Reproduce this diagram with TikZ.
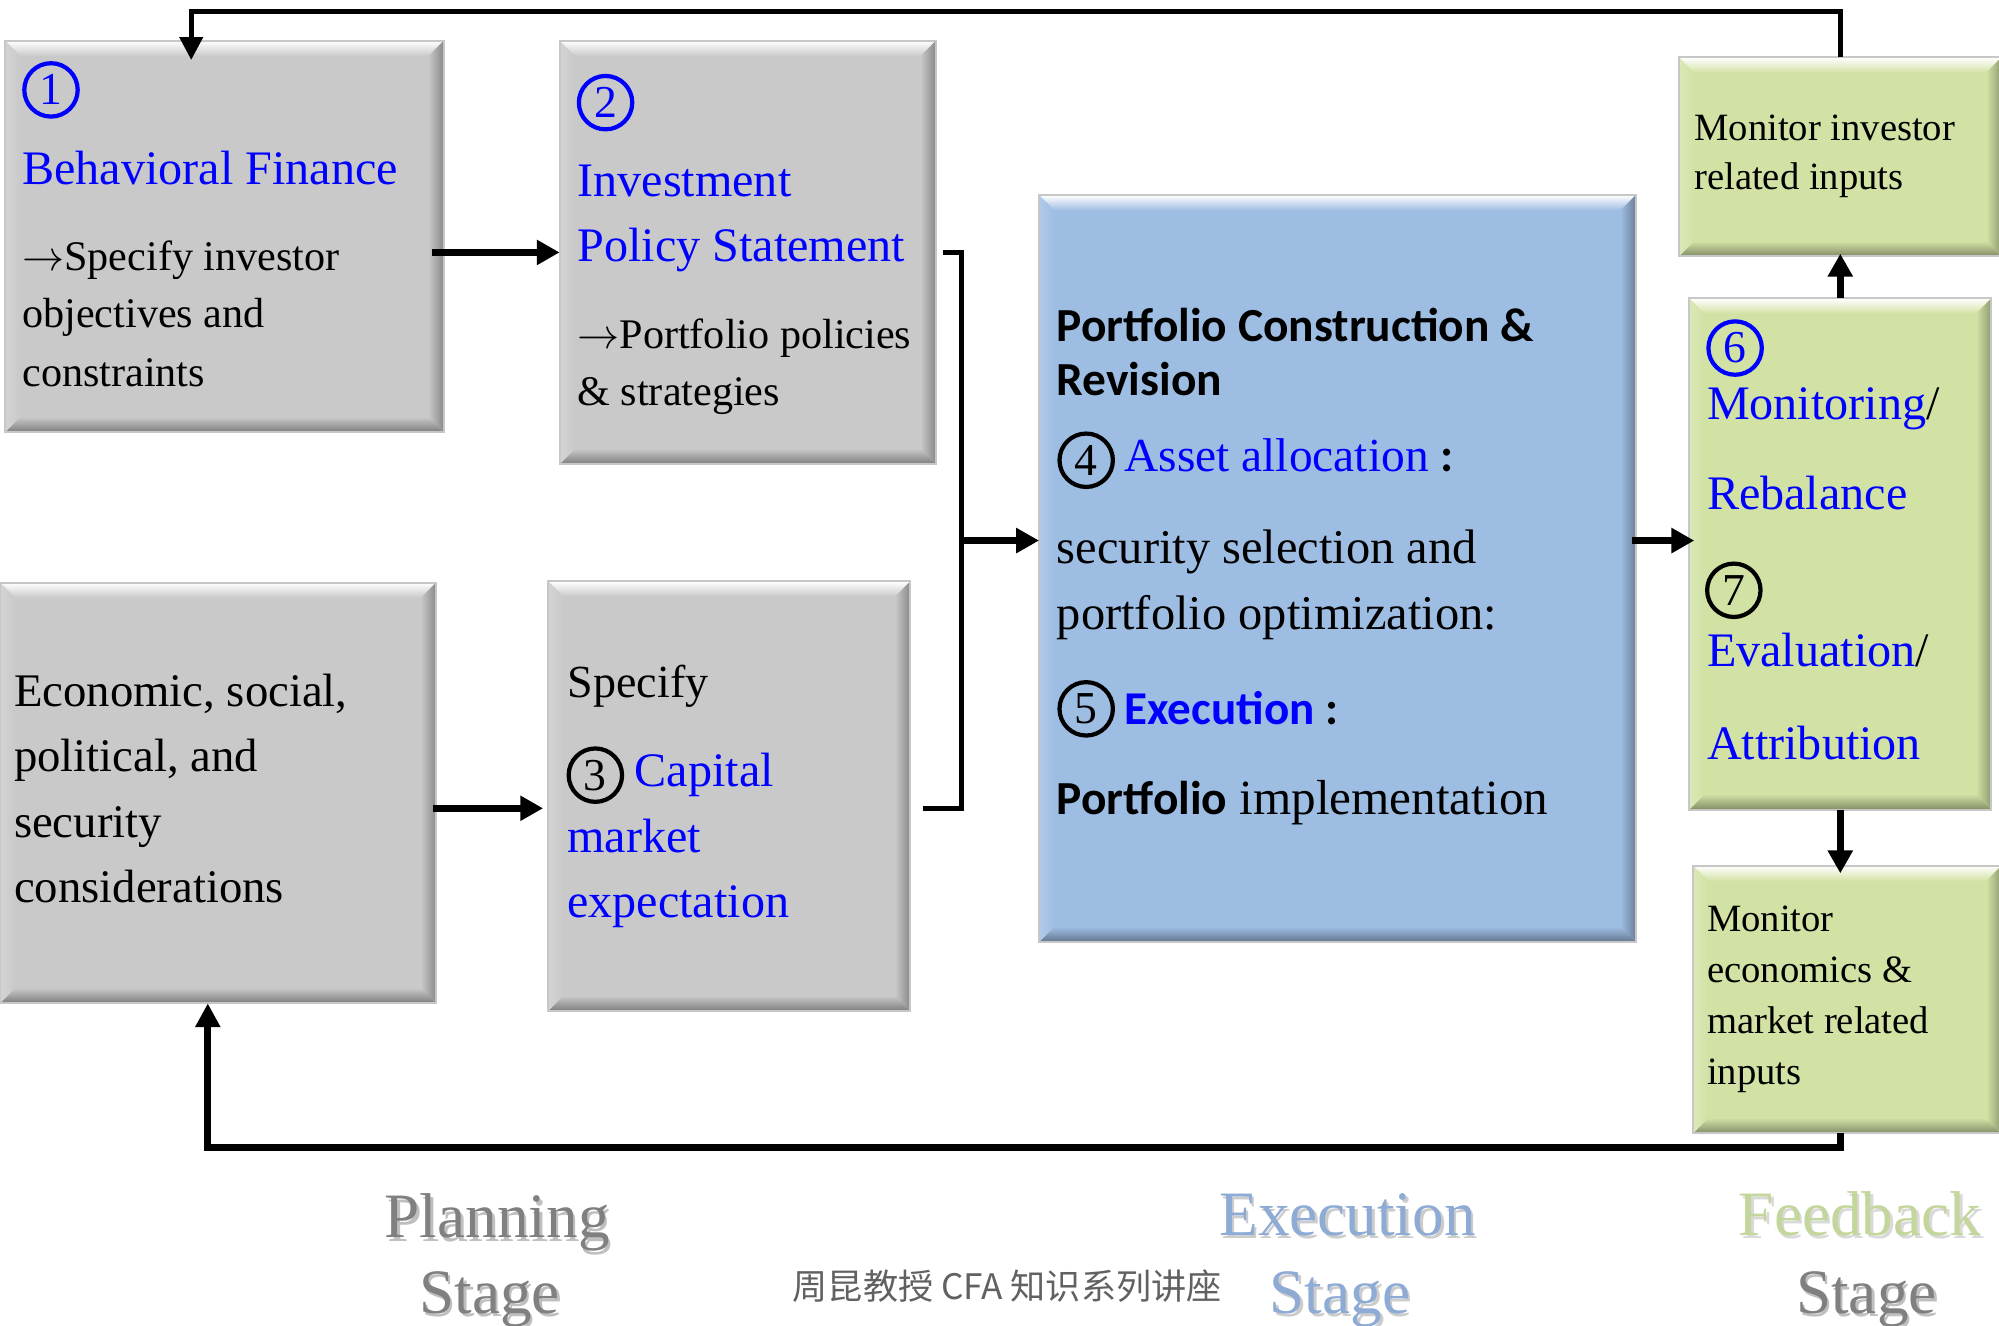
\documentclass[tikz,border=0pt]{standalone}
\usepackage{fontspec}
\setmainfont{Liberation Serif}
\newfontfamily\calib{Carlito}
\newfontfamily\cjkf{Noto Sans CJK SC}
\usetikzlibrary{arrows.meta,calc}
\newcommand\fsz[1]{\fontsize{#1}{#1}\selectfont}
\definecolor{gbase}{RGB}{201,201,201}
\definecolor{bbase}{RGB}{158,189,227}
\definecolor{lbase}{RGB}{210,226,165}
\definecolor{tblue}{RGB}{0,0,255}
\definecolor{execc}{RGB}{141,171,212}
\definecolor{feedc}{RGB}{195,214,155}
\definecolor{stagec}{RGB}{128,128,128}
\tikzset{
 bev/.style={inner sep=0pt, outer sep=0pt, fill=#1, draw=black!22, line width=0.6pt,
  path picture={
   \coordinate (pnw) at (path picture bounding box.north west);
   \coordinate (pse) at (path picture bounding box.south east);
   \coordinate (pne) at (path picture bounding box.north east);
   \coordinate (psw) at (path picture bounding box.south west);
   \shade[top color=white, bottom color=#1] (pnw) -- (pne) -- ($(pne)+(-12,12)$) -- ($(pnw)+(12,12)$) -- cycle;
   \shade[top color=#1, bottom color=#1!62!black] ($(psw)+(12,-12)$) -- ($(pse)+(-12,-12)$) -- (pse) -- (psw) -- cycle;
   \shade[left color=#1, right color=#1!68!black] ($(pne)+(-12,12)$) -- (pne) -- (pse) -- ($(pse)+(-12,-12)$) -- cycle;
   \shade[left color=#1!80!white, right color=#1] (pnw) -- ($(pnw)+(12,12)$) -- ($(psw)+(12,-12)$) -- (psw) -- cycle;
  }},
}
\newcommand\bevbox[6]{\node[bev=#6, minimum width={(#4-#2)*0.12755mm}, minimum height={(#5-#3)*0.12755mm}] (#1) at ({(#2+#4)/2},{(#3+#5)/2}) {};}
\newcommand\rarr{$\rightarrow$}
\begin{document}
\begin{tikzpicture}[x=0.12755mm, y=-0.12755mm,
 tx/.style={anchor=base west, inner sep=0pt, outer sep=0pt},
 hb/.style={tx, text=tblue, font=\fsz{13.7}},
 bd/.style={tx, font=\fsz{12}},
 circ/.style={circle, draw=#1, text=#1, line width=1.2pt, minimum size=15.2pt, inner sep=0pt, font=\fsz{13}},
 thk/.style={line width=2pt, -{Triangle[length=6.5pt,width=6.8pt]}},
 brk/.style={line width=1.4pt},
 fbt/.style={line width=1.3pt, -{Triangle[length=6.5pt,width=6.5pt]}},
 fbb/.style={line width=2pt, -{Triangle[length=6.8pt,width=6.8pt]}},
 lab/.style={anchor=base, inner sep=0pt, font=\fsz{18}},
]
\useasboundingbox (0,0) rectangle (1568,1040);
\fill[white] (0,0) rectangle (1568,1040);

% boxes
\bevbox{b1}{4}{32}{348}{339}{gbase}
\bevbox{b2}{439}{32}{734}{364}{gbase}
\bevbox{b3}{0}{457}{342}{787}{gbase}
\bevbox{b4}{430}{456}{714}{793}{gbase}
\bevbox{b5}{815}{153}{1283}{739}{bbase}
\bevbox{g1}{1317}{45}{1570}{201}{lbase}
\bevbox{g2}{1325}{234}{1562}{635}{lbase}
\bevbox{g3}{1328}{679}{1570}{889}{lbase}

% box 1
\node[circ=tblue] (c1) at (40,70.5) {1};
\node[hb] (t1a) at (17.5,145) {Behavioral Finance};
\node[bd] (t1b) at (17.5,212) {\rarr Specify investor};
\node[bd] (t1c) at (17.5,257) {objectives and};
\node[bd] (t1d) at (17.5,303) {constraints};

% box 2
\node[circ=tblue] (c2) at (475,80.5) {2};
\node[hb] (t2a) at (453,154) {Investment};
\node[hb] (t2b) at (453,205) {Policy Statement};
\node[bd] (t2c) at (453,273) {\rarr Portfolio policies};
\node[bd] (t2d) at (453,318) {\& strategies};

% box 3
\node[tx, font=\fsz{13.3}] (t3a) at (11,554) {Economic, social,};
\node[tx, font=\fsz{13.3}] (t3b) at (11,605.5) {political, and};
\node[tx, font=\fsz{13.3}] (t3c) at (11,657) {security};
\node[tx, font=\fsz{13.3}] (t3d) at (11,708) {considerations};

% box 4
\node[tx, font=\fsz{13.1}] (t4a) at (445.5,547) {Specify};
\node[circ=black] (c3) at (467,608) {3};
\node[hb] (t4b) at (498,617) {Capital};
\node[hb] (t4c) at (445,669) {market};
\node[hb] (t4d) at (445,720) {expectation};

% blue box
\node[tx, font=\calib\bfseries\fsz{13.5}] (t5a) at (829,268) {Portfolio Construction \&};
\node[tx, font=\calib\bfseries\fsz{13.5}] (t5b) at (829,310) {Revision};
\node[circ=black] (c4) at (852,361) {4};
\node[tx, font=\fsz{13.5}] (t5c) at (882,370) {\textcolor{tblue}{Asset allocation} {\calib\bfseries :}};
\node[tx, font=\fsz{13.8}] (t5d) at (829,442) {security selection and};
\node[tx, font=\fsz{13.8}] (t5e) at (829,494) {portfolio optimization:};
\node[circ=black] (c5) at (852,556) {5};
\node[tx, font=\calib\bfseries\fsz{13.4}] (t5f) at (882,568) {\textcolor{tblue}{Execution} :};
\node[tx, font=\fsz{14}] (t5g) at (829,639) {{\calib\bfseries\fsz{13.5}Portfolio} implementation};

% green boxes
\node[tx, font=\fsz{11}] (t6a) at (1329,110) {Monitor investor};
\node[tx, font=\fsz{11}] (t6b) at (1329,149) {related inputs};
\node[circ=tblue] (c6) at (1361,273) {6};
\node[hb] (t7a) at (1339,329) {Monitoring\textcolor{black}{/}};
\node[hb] (t7b) at (1339,400) {Rebalance};
\node[circ=black] (c7) at (1360,463) {7};
\node[hb] (t7c) at (1339,523) {Evaluation\textcolor{black}{/}};
\node[hb] (t7d) at (1339,596) {Attribution};
\node[tx, font=\fsz{11}] (t8a) at (1339,731) {Monitor};
\node[tx, font=\fsz{11}] (t8b) at (1339,771) {economics \&};
\node[tx, font=\fsz{11}] (t8c) at (1339,811) {market related};
\node[tx, font=\fsz{11}] (t8d) at (1339,851) {inputs};

% connectors
\coordinate (a1) at ($(b1.east)+(-9,12.5)$);
\draw[thk] (a1) -- (a1 -| b2.west);
\coordinate (a2) at ($(b3.east)+(-2,12)$);
\draw[thk] (a2) -- ($(a2 -| b4.west)+(-4,0)$);
\coordinate (s1) at ($(b2.east)+(6,0)$);
\coordinate (s2) at ($(b4.east)+(10,9.5)$);
\coordinate (jn) at (754,424);
\draw[brk] (s1) -| (jn) |- (s2);
\draw[thk] (jn) -- (jn -| b5.west);
\coordinate (a3) at ($(b5.east)+(-3,-22)$);
\draw[thk] (a3) -- ($(a3 -| g2.west)+(4,0)$);
\draw[thk] (g2.north) -- ($(g1.south)+(0,-2)$);
\draw[thk] (g2.south) -- ($(g2.south |- g3.north)+(0,6)$);
\coordinate (k1) at (150,9);
\draw[fbt] (g1.north) |- (k1) -- ($(k1 |- b1.north)+(0,15)$);
\coordinate (k2) at (163,900);
\draw[fbb] ($(g3.south)+(-5,0)$) |- (k2) -- (k2 |- b3.south);

% stage labels
\node[lab, text=black!25] (sh1) at (392,973.5) {Planning};
\node[lab, text=stagec] (lp1) at (390,971) {Planning};
\node[lab, text=black!25] (sh2) at (386,1032.5) {Stage};
\node[lab, text=stagec] (ls1) at (384,1030) {Stage};
\node[lab, text=black!20] (sh3) at (1059,971.5) {Execution};
\node[lab, text=execc] (le1) at (1057,969) {Execution};
\node[lab, text=black!20] (sh4) at (1053,1032.5) {Stage};
\node[lab, text=execc] (ls2) at (1051,1030) {Stage};
\node[lab, text=black!15] (sh5) at (1461,971.5) {Feedback};
\node[lab, text=feedc] (lf1) at (1459,969) {Feedback};
\node[lab, text=black!25] (sh6) at (1466,1032.5) {Stage};
\node[lab, text=stagec] (ls3) at (1464,1030) {Stage};
\node[inner sep=0pt, text=black!62, font=\cjkf\fsz{10}] (cj) at (790,1009) {周昆教授 CFA 知识系列讲座};
\end{tikzpicture}
\end{document}
